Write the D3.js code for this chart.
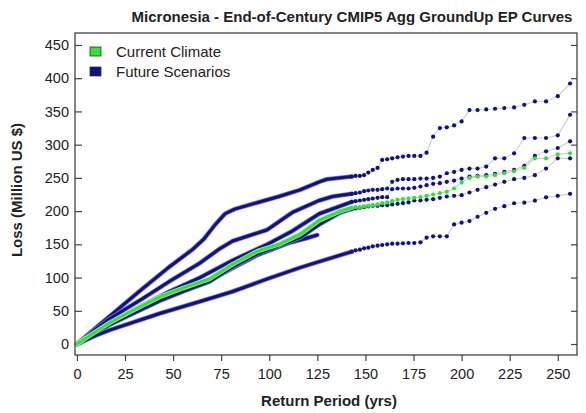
<!DOCTYPE html>
<html>
<head>
<meta charset="utf-8">
<script src="https://cdn.jsdelivr.net/npm/d3@7"></script>
<style>
body { margin: 0; background: #fff; }
text { font-family: "Liberation Sans", Arial, sans-serif; fill: #222; }
</style>
</head>
<body>
<svg id="chart" width="586" height="413"></svg>
<script>
// return periods of the sparse (dotted) tail, shared by all curves
var rpTail = [142.9, 144.9, 147.1, 149.3, 151.5, 153.8, 156.3, 158.7, 161.3, 163.9, 166.7, 169.5,
    172.4, 175.4, 178.6, 181.8, 185.2, 188.7, 192.3, 196.1, 200, 204.1, 208.3, 212.8, 217.4, 222.2,
    227.3, 232.6, 238.1, 243.9, 250, 256.4];

// dense part of each curve: [return period, loss]
var currentHead = [[0,0],[10,19],[17,32],[30,52],[43,71],[55,84],[69,98],[81,120],[94,140],[105,150],[116,165],[126,186],[137,200],[142.9,205]];
var currentTail = [205,206,206,207,208,209,210,212,213,215,217,218,219,220,221,223,225,227,229,234,243,250,252,252,254,257,260,265,279.5,279.5,285.5,287];

var scenAHead = [[0,0],[10,25],[20,49],[34,83],[48,116],[60,142],[66,158],[72,180],[77,196],[82,203],[94,213],[105,222],[116,232],[126,244],[130,248],[142.9,252]];
var scenATail = [252,253,253,254,258,262,265,277,278,279.5,281,282,283,283,283,288,312,325,326,329,335,352,352,353,354,355,356,360,365,365,373,392];

var scenBHead = [[0,0],[10,23],[17,38],[34,68],[48,94],[64,122],[74,143],[81,155],[99,172],[112,198],[126,216],[133,222],[142.9,226]];
var scenBTail = [226,227,228,230,231,232,232,233,234,244,247,248,248,248,249,249,250,252,257,259,262,264,264,267,279.5,279.5,287,310,310,310,314,345];

var scenCHead = [[0,0],[10,18],[17,30],[34,58],[48,79],[64,100],[81,126],[99,150],[112,170],[126,196],[142.9,214]];
var scenCTail = [214,215,216,217,218,219,220,221,221,233,234,234,234,235,237,239,241,242,244,246,249,252,253,254,256,259,262,268,283,290,295,305];

var scenDHead = [[0,0],[10,17],[17,29],[30,47],[43,65],[55,79],[69,94],[81,116],[94,136],[105,148],[116,160],[126,180],[137,198],[142.9,203]];
var scenDTail = [203,204,205,206,207,208,208,209,209,210,211,212,213,216,216,217,218,220,222,223,224,228,232,236,240,244,248,250,254,264,279.5,279.5];

var scenEHead = [[0,0],[10,13],[17,21],[43,46],[64,64],[81,79],[99,98],[116,115],[126,124],[142.9,139]];
var scenETail = [139,141,142,144,145,147,148,149,150,151,151,151.5,152,152,153,160,162,162,162,180,182.6,185,191.5,197.5,203.5,207.5,211.8,212.7,215.7,220.8,223,226];

// shorter scenario, ends near 125 yrs
var scenFHead = [[0,0],[10,17],[17,30],[43,68],[69,96],[94,134],[110,152],[118,158],[125,164]];

var xTicks = d3.range(0, 251, 25);
var yTicks = d3.range(0, 451, 50);
var legendKeys = ["Current Climate", "Future Scenarios"];

var blue = "#10108a", green = "#2ee62e";

var svg = d3.select("#chart");
var x = d3.scaleLinear().domain([-1, 260]).range([75, 577]);
var y = d3.scaleLinear().domain([-16.5, 468]).range([355, 33]);

// axes
svg.append("g")
    .attr("transform", "translate(0,355)")
    .call(d3.axisBottom(x).tickValues(xTicks).tickSizeOuter(0).tickSize(6).tickPadding(8))
    .call(function(g) { g.select(".domain").remove(); })
    .call(function(g) { g.selectAll("text").style("font-size", "14.5px"); });

svg.append("g")
    .attr("transform", "translate(75,0)")
    .call(d3.axisLeft(y).tickValues(yTicks).tickSizeOuter(0).tickSizeInner(-7).tickPadding(6))
    .call(function(g) { g.select(".domain").remove(); })
    .call(function(g) { g.selectAll("text").style("font-size", "14.5px"); });

svg.append("g")
    .attr("transform", "translate(577,0)")
    .call(d3.axisRight(y).tickValues(yTicks).tickSizeOuter(0).tickSizeInner(-6).tickFormat(""))
    .call(function(g) { g.select(".domain").remove(); });

svg.selectAll(".tick line").attr("stroke", "#444").attr("stroke-width", 1.2);

var plot = svg.append("g");
var line = d3.line().x(function(d) { return x(d[0]); }).y(function(d) { return y(d[1]); });

function drawSeries(head, tail, color, halo) {
    var pts = tail ? rpTail.map(function(r, i) { return [r, tail[i]]; }) : [];
    if (pts.length) {
        plot.append("path").datum(pts)
            .attr("d", line).attr("fill", "none")
            .attr("stroke", "#cfcfcf").attr("stroke-width", 1.2);
    }
    // soft edge, like the overlapping markers of the original
    plot.append("path").datum(head)
        .attr("d", line).attr("fill", "none")
        .attr("stroke", halo).attr("stroke-width", 4.6)
        .attr("stroke-linejoin", "round").attr("stroke-linecap", "round");
    plot.append("path").datum(head)
        .attr("d", line).attr("fill", "none")
        .attr("stroke", color).attr("stroke-width", 3)
        .attr("stroke-linejoin", "round").attr("stroke-linecap", "round");
    plot.append("g").selectAll("circle")
        .data(pts)
        .join("circle")
        .attr("cx", function(d) { return x(d[0]); })
        .attr("cy", function(d) { return y(d[1]); })
        .attr("r", 2.1)
        .attr("fill", color);
}

var blueHalo = "#7a7ac4", greenHalo = "#9af09a";
drawSeries(scenAHead, scenATail, blue, blueHalo);
drawSeries(scenBHead, scenBTail, blue, blueHalo);
drawSeries(scenCHead, scenCTail, blue, blueHalo);
drawSeries(scenFHead, null, blue, blueHalo);
drawSeries(scenDHead, scenDTail, blue, blueHalo);
drawSeries(scenEHead, scenETail, blue, blueHalo);
drawSeries(currentHead, currentTail, green, greenHalo);

// frame
svg.append("rect")
    .attr("x", 75).attr("y", 33).attr("width", 502).attr("height", 322)
    .attr("fill", "none").attr("stroke", "#444").attr("stroke-width", 1.3);

// legend
var legend = svg.selectAll(".legend")
    .data(legendKeys)
    .enter().append("g")
    .attr("class", "legend")
    .attr("transform", function(d, i) { return "translate(90," + (47 + i * 20) + ")"; });
legend.append("rect")
    .attr("width", 11).attr("height", 9)
    .attr("fill", function(d, i) { return i === 0 ? green : blue; })
    .attr("stroke", "#333").attr("stroke-width", 0.8);
legend.append("text")
    .attr("x", 26).attr("y", 10)
    .style("font-size", "15px")
    .text(function(d) { return d; });

// titles
svg.append("text")
    .attr("x", 352).attr("y", 22)
    .attr("text-anchor", "middle")
    .style("font-size", "15px").style("font-weight", "bold")
    .text("Micronesia - End-of-Century CMIP5 Agg GroundUp EP Curves");

svg.append("text")
    .attr("x", 329).attr("y", 406)
    .attr("text-anchor", "middle")
    .style("font-size", "15px").style("font-weight", "bold")
    .text("Return Period (yrs)");

svg.append("text")
    .attr("transform", "translate(22,190) rotate(-90)")
    .attr("text-anchor", "middle")
    .style("font-size", "15px").style("font-weight", "bold")
    .text("Loss (Million US $)");
</script>
</body>
</html>
